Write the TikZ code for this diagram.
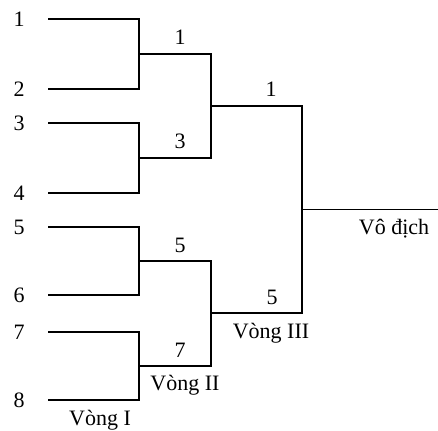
\documentclass[tikz,border=0pt]{standalone}
\usepackage{fontspec}
\setmainfont{Liberation Serif}
\usepackage{tikz}

\begin{document}
\begin{tikzpicture}[x=1pt,y=-1pt,font=\fontsize{22}{26}\selectfont,
        bout/.style={line width=1.5pt}]
        \useasboundingbox (0,0) rectangle (438,430);

        % vong I
        \coordinate (s1) at (48,19);   \coordinate (e1) at (139,19);
        \coordinate (s2) at (48,89);   \coordinate (e2) at (139,89);
        \coordinate (s3) at (48,123);  \coordinate (e3) at (139,123);
        \coordinate (s4) at (48,193);  \coordinate (e4) at (139,193);
        \coordinate (s5) at (48,227);  \coordinate (e5) at (139,227);
        \coordinate (s6) at (48,295);  \coordinate (e6) at (139,295);
        \coordinate (s7) at (48,332);  \coordinate (e7) at (139,332);
        \coordinate (s8) at (48,400);  \coordinate (e8) at (139,400);

        % vong II
        \coordinate (s12) at (139,54);  \coordinate (e12) at (211,54);
        \coordinate (s34) at (139,158); \coordinate (e34) at (211,158);
        \coordinate (s56) at (139,261); \coordinate (e56) at (211,261);
        \coordinate (s78) at (139,366); \coordinate (e78) at (211,366);

        % vong III
        \coordinate (s14) at (211,106); \coordinate (e14) at (302,106);
        \coordinate (s58) at (211,313); \coordinate (e58) at (302,313);

        % vo dich
        \coordinate (s18) at (302,209.5); \coordinate (e18) at (438,209.5);

        \node (n1) at (19,19) {1};
        \node (n2) at (19,89) {2};
        \node (n3) at (19,123) {3};
        \node (n4) at (19,193) {4};
        \node (n5) at (19,227) {5};
        \node (n6) at (19,295) {6};
        \node (n7) at (19,332) {7};
        \node (n8) at (19,400) {8};

        \node[anchor=base] (w12) at (180,45) {1};
        \node[anchor=base] (w34) at (180,149) {3};
        \node[anchor=base] (w56) at (180,252) {5};
        \node[anchor=base] (w78) at (180,357) {7};
        \node[anchor=base] (w14) at (271,97) {1};
        \node[anchor=base] (w58) at (272,304) {5};

        \node[anchor=base] (r1) at (100,425) {Vòng I};
        \node[anchor=base] (r2) at (185,390) {Vòng II};
        \node[anchor=base] (r3) at (271,338) {Vòng III};
        \node[anchor=base] (champ) at (394,234) {Vô địch};

        \draw[bout] (s1) -- (e1) -- (e2) -- (s2);
        \draw[bout] (s3) -- (e3) -- (e4) -- (s4);
        \draw[bout] (s5) -- (e5) -- (e6) -- (s6);
        \draw[bout] (s7) -- (e7) -- (e8) -- (s8);
        \draw[bout] (s12) -- (e12) -- (e34) -- (s34);
        \draw[bout] (s56) -- (e56) -- (e78) -- (s78);
        \draw[bout] (s14) -- (e14) -- (e58) -- (s58);
        \draw[bout] (s18) -- (e18);
    \end{tikzpicture}
\end{document}
